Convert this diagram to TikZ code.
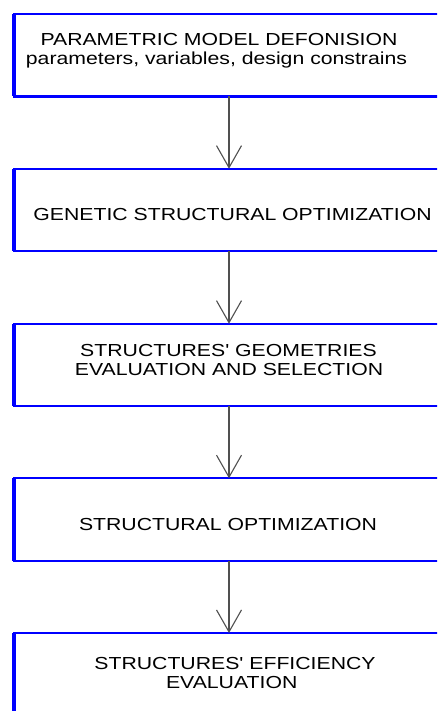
\documentclass[tikz,border=0pt]{standalone}
\usepackage{fontspec}
\setmainfont{Liberation Sans}[FakeStretch=1.22,Ligatures=TeXOff]
\usetikzlibrary{arrows.meta}
\definecolor{boxblue}{RGB}{0,0,255}
\definecolor{arrgrey}{RGB}{80,80,80}
\begin{document}
\begin{tikzpicture}[x=1pt,y=-1pt,
  box/.style={draw=boxblue,line width=2.3pt,rectangle,minimum width=430pt,minimum height=82.5pt,inner sep=0pt,outer sep=0pt},
  lbl/.style={inner sep=0pt,outer sep=0pt,anchor=base,text=black,font=\fontsize{17.4}{19.3}\selectfont},
  flow/.style={draw=arrgrey,line width=1.1pt,-{Straight Barb[length=22pt,width=25pt,line width=1.1pt]}},
  leftedge/.style={draw=boxblue,line width=3.2pt}]
\useasboundingbox (0,0) rectangle (437,711);
\clip (0,0) rectangle (437,711);
\fill[white] (0,0) rectangle (437,711);
% boxes
\node[box] (b1) at (229,55.25) {};
\node[box] (b2) at (229,210) {};
\node[box] (b3) at (229,365) {};
\node[box] (b4) at (229,519.5) {};
\node[box] (b5) at (229,674.25) {};
\foreach \b in {b1,b2,b3,b4,b5}
  \draw[leftedge] (\b.north west) -- (\b.south west);
% texts
\node[lbl] (t1a) at (219,46) {PARAMETRIC MODEL DEFONISION};
\node[lbl] (t1b) at (216.5,64.5) {parameters, variables, design constrains};
\node[lbl] (t2) at (232.5,220.7) {GENETIC STRUCTURAL OPTIMIZATION};
\node[lbl] (t3a) at (228.5,356.7) {STRUCTURES' GEOMETRIES};
\node[lbl] (t3b) at (229,375.7) {EVALUATION AND SELECTION};
\node[lbl] (t4) at (228,530.7) {STRUCTURAL OPTIMIZATION};
\node[lbl] (t5a) at (235,669.3) {STRUCTURES' EFFICIENCY};
\node[lbl] (t5b) at (231.7,688) {EVALUATION};
% arrows
\draw[flow] (b1.south) -- (b2.north);
\draw[flow] (b2.south) -- (b3.north);
\draw[flow] (b3.south) -- (b4.north);
\draw[flow] (b4.south) -- (b5.north);
\end{tikzpicture}
\end{document}
